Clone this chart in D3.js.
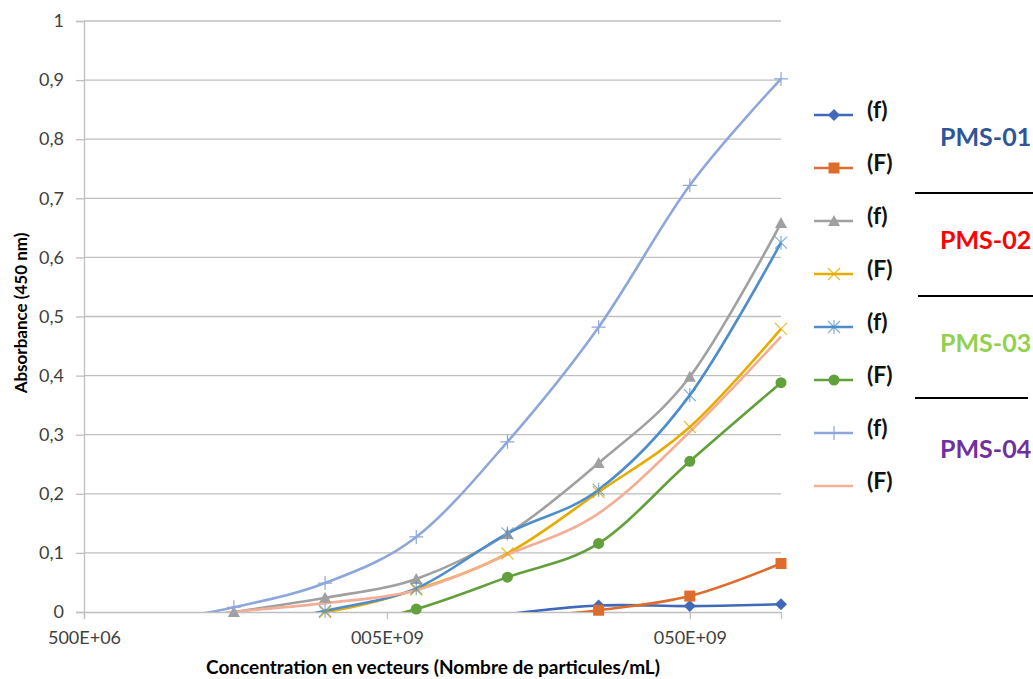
<!DOCTYPE html>
<html><head><meta charset="utf-8">
<script src="https://cdn.jsdelivr.net/npm/d3@7"></script>
<style>
body{margin:0;background:#fff;}
svg{display:block;}
text{font-family:Lato,"Open Sans",sans-serif;}
</style></head>
<body><svg id="c" width="1033" height="679"></svg>
<script>
// concentrations (particles/mL)
const concentrations = [7.8125e8, 1.5625e9, 3.125e9, 6.25e9, 1.25e10, 2.5e10, 5e10, 1e11];
// absorbance values (negative values fall below the axis and are hidden)
const pms01_f = [-0.05, -0.05, -0.04, -0.03, -0.004, 0.011, 0.010, 0.013];
const pms01_F = [-0.05, -0.05, -0.04, -0.03, -0.012, 0.003, 0.027, 0.082];
const pms02_f = [-0.02, 0.0, 0.024, 0.056, 0.132, 0.252, 0.398, 0.658];
const pms02_F = [-0.03, -0.006, 0.0, 0.038, 0.099, 0.203, 0.313, 0.479];
const pms03_f = [-0.05, -0.03, 0.002, 0.040, 0.133, 0.207, 0.367, 0.625];
const pms03_F = [-0.06, -0.05, -0.03, 0.005, 0.059, 0.116, 0.255, 0.388];
const pms04_f = [-0.02, 0.008, 0.049, 0.127, 0.288, 0.482, 0.722, 0.902];
const pms04_F = [-0.02, 0.0, 0.015, 0.037, 0.097, 0.167, 0.305, 0.466];
const yTicks = [0, 0.1, 0.2, 0.3, 0.4, 0.5, 0.6, 0.7, 0.8, 0.9, 1];
const xTicks = [5e8, 5e9, 5e10];
const xTickLabels = ["500E+06", "005E+09", "050E+09"];
const seriesNames = ["(f)", "(F)", "(f)", "(F)", "(f)", "(F)", "(f)", "(F)"];
const groupNames = ["PMS-01", "PMS-02", "PMS-03", "PMS-04"];

const series = [
  {v: pms01_f, color: "#4069BA", marker: "diamond"},
  {v: pms01_F, color: "#DC6D2C", marker: "square"},
  {v: pms02_f, color: "#A0A0A0", marker: "triangle"},
  {v: pms02_F, color: "#E6AC00", marker: "x"},
  {v: pms03_f, color: "#4C8DCA", marker: "star"},
  {v: pms03_F, color: "#62A03C", marker: "circle"},
  {v: pms04_f, color: "#8EA7DB", marker: "plus"},
  {v: pms04_F, color: "#F3AE95", marker: "none"}
];
const groupColors = ["#2F5597", "#FF0000", "#92D050", "#7030A0"];

const svg = d3.select("#c");
const L = 84, R = 781, T = 21, B = 612;
const x = d3.scaleLog().domain([5e8, 1e11]).range([L, R]);
const y = d3.scaleLinear().domain([0, 1]).range([B, T]);

// gridlines
svg.append("g").selectAll("line").data(yTicks.slice(1)).join("line")
  .attr("x1", L).attr("x2", R).attr("y1", d => y(d)).attr("y2", d => y(d))
  .attr("stroke", "#BFBFBF").attr("stroke-width", 1.3);

// y axis
const yAxis = svg.append("g").attr("transform", `translate(${L},0)`)
  .call(d3.axisLeft(y).tickValues(yTicks).tickSize(8).tickPadding(12)
    .tickFormat(d => d3.format(".1~f")(d).replace(".", ",")));
yAxis.select(".domain").attr("stroke", "#BFBFBF").attr("stroke-width", 1.3);
yAxis.selectAll(".tick line").attr("stroke", "#BFBFBF").attr("stroke-width", 1.3);
yAxis.selectAll(".tick text").attr("fill", "#404040").attr("font-size", 18);

// x axis
const xAxis = svg.append("g").attr("transform", `translate(0,${B})`)
  .call(d3.axisBottom(x).tickValues(xTicks).tickSize(7).tickPadding(12)
    .tickFormat((d, i) => xTickLabels[i]));
xAxis.select(".domain").attr("stroke", "#BFBFBF").attr("stroke-width", 1.3);
xAxis.selectAll(".tick line").attr("stroke", "#BFBFBF").attr("stroke-width", 1.3);
xAxis.selectAll(".tick text").attr("fill", "#404040").attr("font-size", 18);

// clip
svg.append("clipPath").attr("id", "clip").append("rect")
  .attr("x", L).attr("y", T - 5).attr("width", R - L + 5).attr("height", B - T + 5);

const line = d3.line().x((d, i) => x(concentrations[i])).y(d => y(d))
  .curve(d3.curveCardinal.tension(0));

const plot = svg.append("g").attr("clip-path", "url(#clip)");
series.forEach(s => {
  plot.append("path").attr("d", line(s.v)).attr("fill", "none")
    .attr("stroke", s.color).attr("stroke-width", 2.6);
});

function drawMarker(g, type, cx, cy, color) {
  const m = g.append("g").attr("transform", `translate(${cx},${cy})`);
  if (type === "diamond") m.append("path").attr("d", "M0,-6L6,0L0,6L-6,0Z").attr("fill", color);
  else if (type === "square") m.append("rect").attr("x", -5.5).attr("y", -5.5).attr("width", 11).attr("height", 11).attr("fill", color);
  else if (type === "triangle") m.append("path").attr("d", "M0,-6L6,5L-6,5Z").attr("fill", color);
  else if (type === "circle") m.append("circle").attr("r", 5.5).attr("fill", color);
  else if (type === "x") m.append("path").attr("d", "M-6,-6L6,6M-6,6L6,-6").attr("stroke", color).attr("stroke-width", 1.2).attr("opacity", 0.8);
  else if (type === "star") m.append("path").attr("d", "M-6,-6L6,6M-6,6L6,-6M0,-7L0,7").attr("stroke", color).attr("stroke-width", 1.2).attr("opacity", 0.7);
  else if (type === "plus") m.append("path").attr("d", "M-7,0L7,0M0,-7L0,7").attr("stroke", color).attr("stroke-width", 1.2);
}

const mk = svg.append("g");
series.forEach(s => {
  s.v.forEach((v, i) => {
    if (v >= 0) drawMarker(mk, s.marker, x(concentrations[i]), y(v), s.color);
  });
});

// axis titles
svg.append("text").attr("transform", "translate(27,313) rotate(-90)")
  .attr("text-anchor", "middle").attr("font-weight", "bold").attr("font-size", 17)
  .attr("fill", "#000").text("Absorbance (450 nm)");
svg.append("text").attr("x", 433).attr("y", 674)
  .attr("text-anchor", "middle").attr("font-weight", "bold").attr("font-size", 19)
  .attr("fill", "#000").text("Concentration  en vecteurs (Nombre de particules/mL)");

// legend
const legY = [115, 168, 221, 274, 327, 380, 433, 486];
const leg = svg.append("g");
series.forEach((s, i) => {
  const ly = legY[i];
  leg.append("line").attr("x1", 814).attr("x2", 853).attr("y1", ly).attr("y2", ly)
    .attr("stroke", s.color).attr("stroke-width", 2.6);
  drawMarker(leg, s.marker, 834, ly, s.color);
  leg.append("text").attr("x", 867).attr("y", ly - 3).attr("dominant-baseline", "middle")
    .attr("font-weight", "bold").attr("font-size", 23).attr("fill", "#111").text(seriesNames[i]);
});

// group labels
const grpY = [140, 243, 346, 452];
groupNames.forEach((g, i) => {
  svg.append("text").attr("x", 940).attr("y", grpY[i]).attr("dominant-baseline", "middle")
    .attr("font-weight", "bold").attr("font-size", 25).attr("fill", groupColors[i]).text(g);
});
// separators
const seps = [[915, 1033, 193], [918, 1033, 296], [915, 1028, 398]];
seps.forEach(s => {
  svg.append("line").attr("x1", s[0]).attr("x2", s[1]).attr("y1", s[2]).attr("y2", s[2])
    .attr("stroke", "#000").attr("stroke-width", 2.2);
});
</script></body></html>
